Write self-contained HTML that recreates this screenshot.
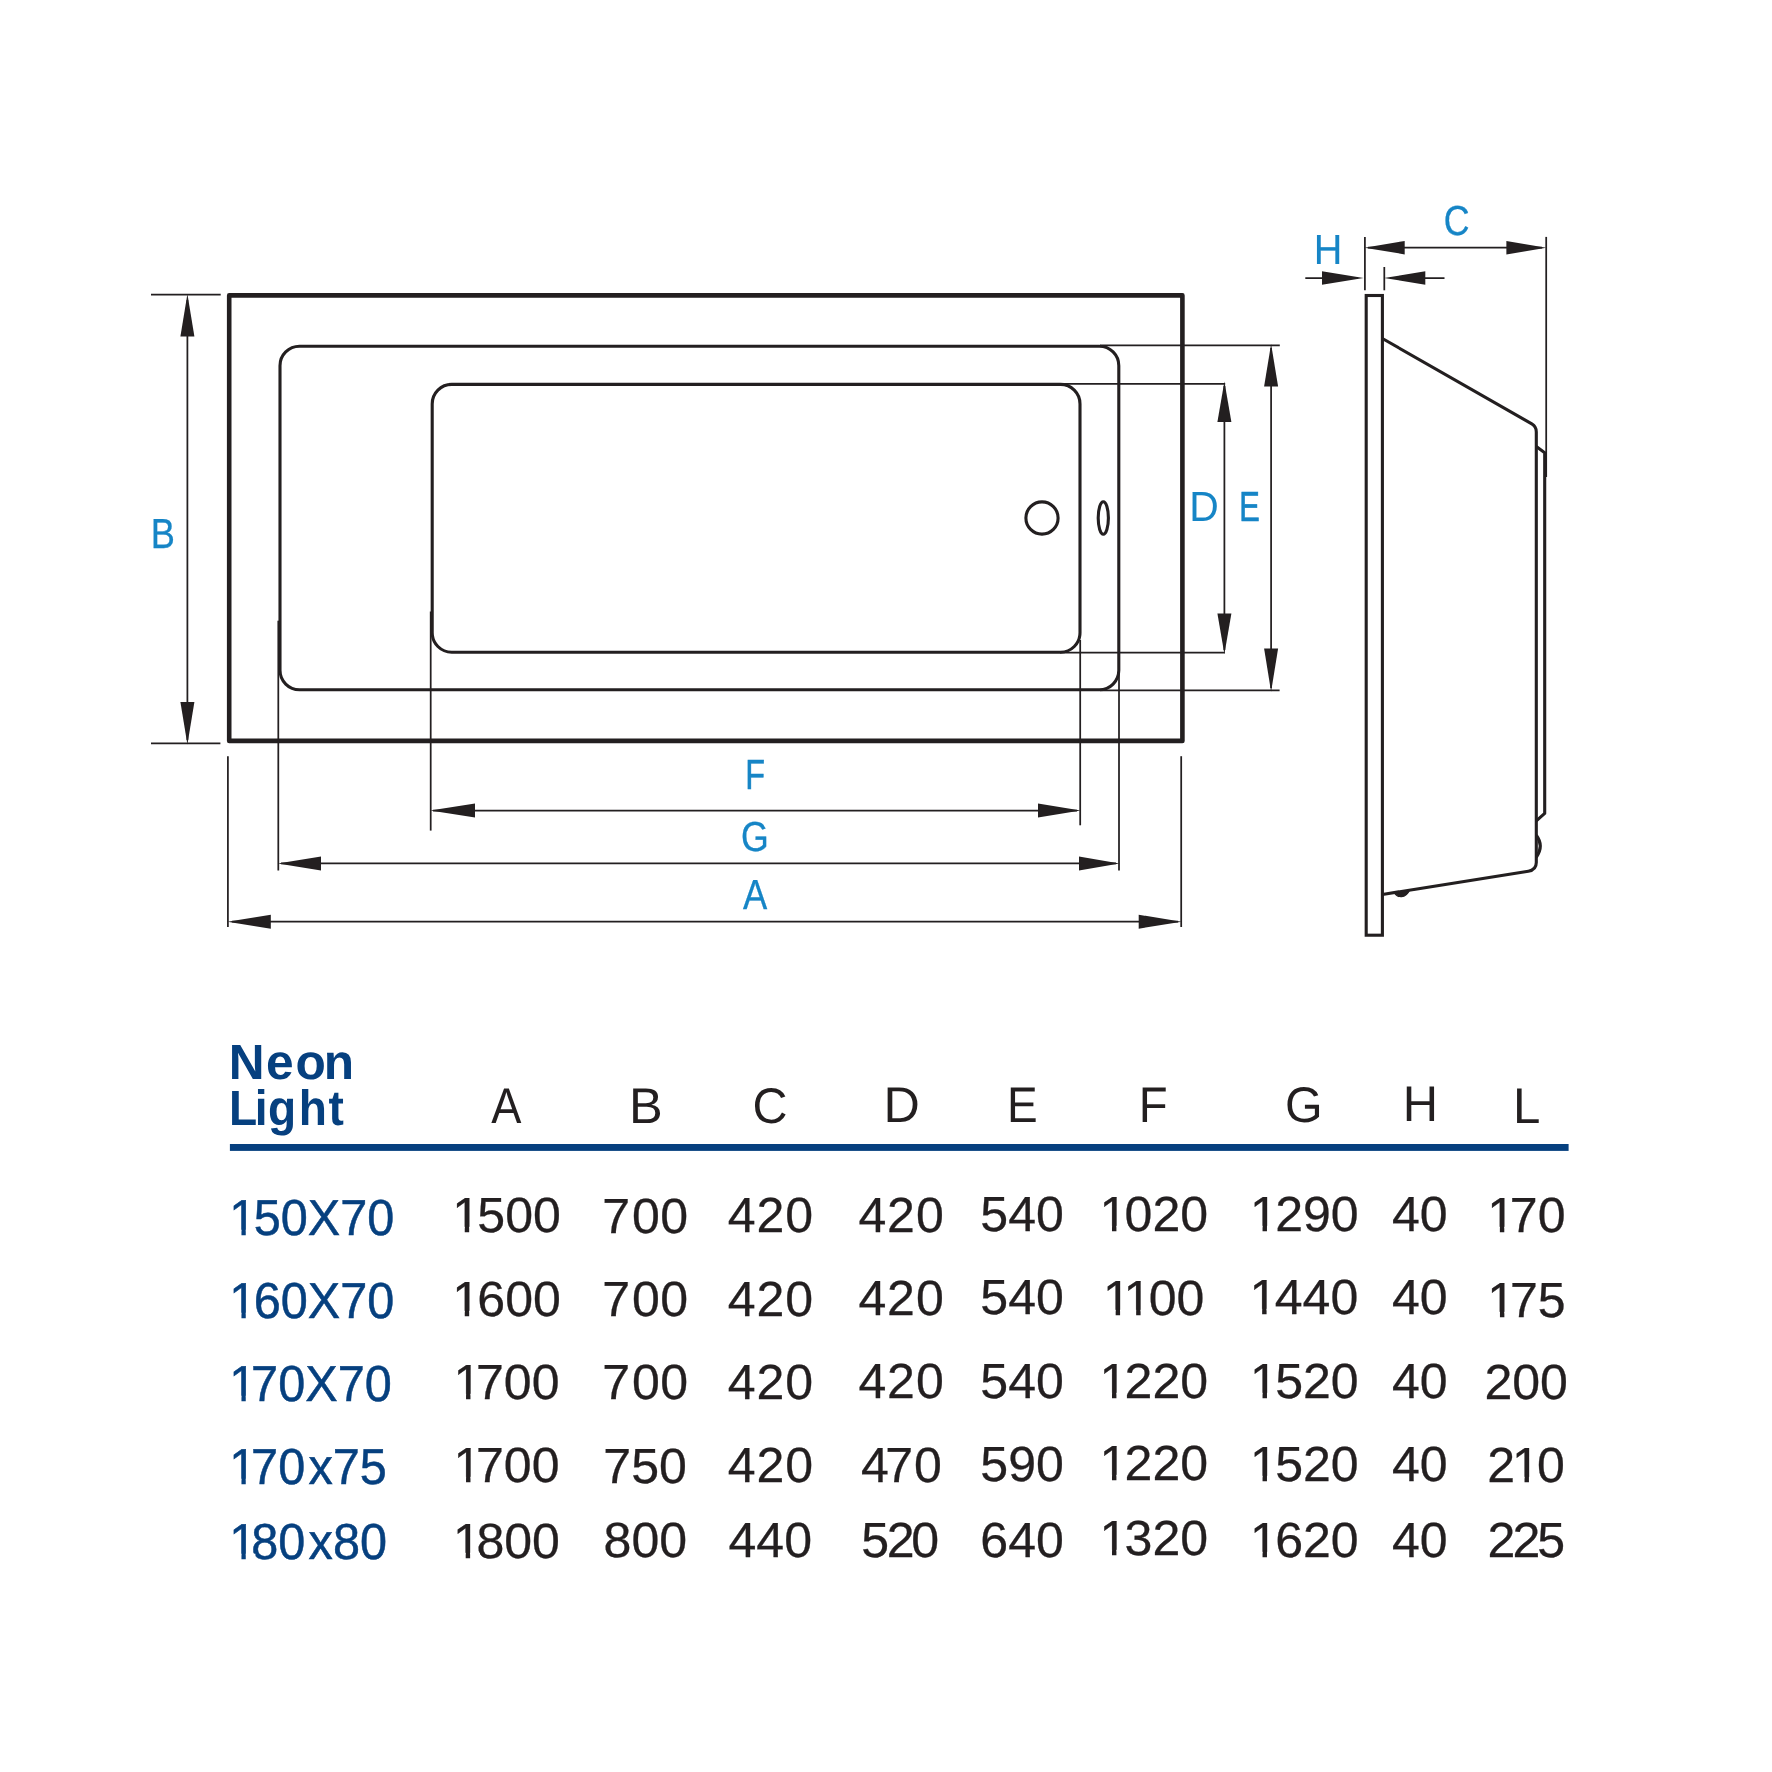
<!DOCTYPE html>
<html>
<head>
<meta charset="utf-8">
<title>Neon Light bathtub dimensions</title>
<style>
html,body{margin:0;padding:0;background:#fff;}
body{width:1772px;height:1772px;overflow:hidden;position:relative;}
svg{position:absolute;left:0;top:0;will-change:transform;}
text{font-family:"Liberation Sans",sans-serif;font-kerning:none;text-rendering:geometricPrecision;}
.lbl{fill:#1685c6;font-size:42.0px;}
.hd{fill:#231f20;font-size:50px;}
.num{fill:#231f20;font-size:49.3px;stroke:#231f20;stroke-width:0.3px;}
.row{fill:#06407f;font-size:50.6px;stroke:#06407f;stroke-width:0.5px;}
.ttl{fill:#06407f;font-size:49.6px;font-weight:bold;}
</style>
</head>
<body>
<svg width="1772" height="1772" viewBox="0 0 1772 1772">
<g fill="none" stroke="#231f20">
  <rect x="229.2" y="295.4" width="953.2" height="445.5" stroke-width="4.6" stroke-linejoin="round"/>
  <rect x="280" y="346.2" width="838.8" height="343.6" rx="19.5" ry="19.5" stroke-width="3.1"/>
  <rect x="432.2" y="384.4" width="647.8" height="267.8" rx="19.5" ry="19.5" stroke-width="3.1"/>
  <circle cx="1042" cy="518" r="16.1" stroke-width="3.1"/>
  <ellipse cx="1103.3" cy="518" rx="5.1" ry="16.2" stroke-width="3.1"/>
  <g stroke-width="1.75">
    <line x1="151" y1="294.6" x2="220.7" y2="294.6"/>
    <line x1="151" y1="743.3" x2="220.4" y2="743.3"/>
    <line x1="187.4" y1="300" x2="187.4" y2="740"/>
    <line x1="227.9" y1="756.2" x2="227.9" y2="927"/>
    <line x1="1181.2" y1="756.2" x2="1181.2" y2="927"/>
    <line x1="232" y1="921.7" x2="1178" y2="921.7"/>
    <line x1="278.3" y1="620.7" x2="278.3" y2="870.5"/>
    <line x1="1119" y1="670" x2="1119" y2="870.6"/>
    <line x1="281" y1="863.4" x2="1116" y2="863.4"/>
    <line x1="430.7" y1="611.5" x2="430.7" y2="830.6"/>
    <line x1="1080.2" y1="640" x2="1080.2" y2="825.3"/>
    <line x1="433" y1="810.5" x2="1077" y2="810.5"/>
    <line x1="1100" y1="345.4" x2="1279.8" y2="345.4"/>
    <line x1="1100" y1="690.4" x2="1279.6" y2="690.4"/>
    <line x1="1271.1" y1="348" x2="1271.1" y2="688"/>
    <line x1="1060" y1="383.8" x2="1225.2" y2="383.8"/>
    <line x1="1060" y1="652.7" x2="1224.9" y2="652.7"/>
    <line x1="1224.4" y1="386" x2="1224.4" y2="650"/>
    <line x1="1364.9" y1="236.9" x2="1364.9" y2="290.3"/>
    <line x1="1546.2" y1="236.9" x2="1546.2" y2="477"/>
    <line x1="1368" y1="247.7" x2="1542" y2="247.7"/>
    <line x1="1384.3" y1="267" x2="1384.3" y2="290.3"/>
    <line x1="1305.3" y1="278" x2="1358" y2="278"/>
    <line x1="1390" y1="278" x2="1444.5" y2="278"/>
  </g>
  <rect x="1366.2" y="295.5" width="16.2" height="639.7" stroke-width="3.1"/>
  <path d="M1382.4 338.5 L1531.8 423.9 Q1536.3 426.5 1536.3 432 L1536.3 862.5 Q1536.3 869.9 1528.3 871.2 L1382.4 894.5" stroke-width="3.1" stroke-linejoin="round"/>
  <path d="M1536.3 446.6 L1544.7 452.8 L1544.7 813.4 L1536.3 820.9" stroke-width="3.1" stroke-linejoin="round"/>
  <path d="M1536.3 835.3 Q1544.3 846 1536.3 857.3" stroke-width="3.1"/>
  <path d="M1394.3 892.6 C1397.5 898.2 1405.5 898.6 1409.6 890.2 Z" fill="#231f20" stroke-width="1.2"/>
</g>
<g fill="#231f20" stroke="none">
  <polygon points="187.40,293.90 180.40,336.40 194.40,336.40"/>
  <polygon points="187.40,744.60 180.40,702.00 194.40,702.00"/>
  <polygon points="227.40,921.70 270.80,914.70 270.80,928.70"/>
  <polygon points="1181.70,921.70 1138.70,914.70 1138.70,928.70"/>
  <polygon points="277.80,863.40 321.00,856.40 321.00,870.40"/>
  <polygon points="1119.50,863.40 1079.00,856.40 1079.00,870.40"/>
  <polygon points="430.20,810.50 475.00,803.50 475.00,817.50"/>
  <polygon points="1080.70,810.50 1038.00,803.50 1038.00,817.50"/>
  <polygon points="1271.10,344.10 1264.10,386.50 1278.10,386.50"/>
  <polygon points="1271.10,691.70 1264.10,648.40 1278.10,648.40"/>
  <polygon points="1224.40,381.50 1217.40,422.00 1231.40,422.00"/>
  <polygon points="1224.40,654.00 1217.40,613.60 1231.40,613.60"/>
  <polygon points="1364.40,247.70 1404.70,241.00 1404.70,254.40"/>
  <polygon points="1546.30,247.70 1506.40,241.00 1506.40,254.40"/>
  <polygon points="1363.50,278.00 1322.00,271.30 1322.00,284.70"/>
  <polygon points="1384.00,278.00 1425.30,271.30 1425.30,284.70"/>
</g>
<g>
<text class="lbl" style="stroke:#1685c6;stroke-width:0.30px" transform="scale(0.8634 1)" x="174.69" y="547.80">B</text>
<text class="lbl" style="stroke:#1685c6;stroke-width:0.57px" transform="scale(0.7697 1)" x="968.40" y="789.10">F</text>
<text class="lbl" style="stroke:#1685c6;stroke-width:0.34px" transform="scale(0.8498 1)" x="871.88" y="851.00">G</text>
<text class="lbl" style="stroke:#1685c6;stroke-width:0.30px" transform="scale(0.8654 1)" x="858.63" y="908.80">A</text>
<text class="lbl" style="stroke:#1685c6;stroke-width:0.05px" transform="scale(0.9728 1)" x="1222.57" y="521.10">D</text>
<text class="lbl" style="stroke:#1685c6;stroke-width:0.69px" transform="scale(0.7336 1)" x="1689.38" y="521.10">E</text>
<text class="lbl" style="stroke:#1685c6;stroke-width:0.34px" transform="scale(0.8497 1)" x="1699.24" y="234.60">C</text>
<text class="lbl" style="stroke:#1685c6;stroke-width:0.12px" transform="scale(0.9420 1)" x="1394.55" y="264.00">H</text>
</g>
<g>
<text class="ttl" transform="scale(1.0001 1)" x="228.66 266.04 295.43 323.80" y="1079.00">Neon</text>
<text class="ttl" transform="scale(0.9300 1)" x="246.14 274.06 288.18 321.16 353.16" y="1124.90">Light</text>
<rect x="229.9" y="1144.0" width="1338.7" height="6.9" fill="#06407f"/>
<text class="hd" transform="scale(0.9049 1)" x="542.75" y="1123.00">A</text>
<text class="hd" transform="scale(1.0108 1)" x="622.20" y="1123.00">B</text>
<text class="hd" transform="scale(0.9695 1)" x="776.09" y="1122.70">C</text>
<text class="hd" transform="scale(1.0063 1)" x="877.87" y="1121.90">D</text>
<text class="hd" transform="scale(0.9188 1)" x="1096.10" y="1121.90">E</text>
<text class="hd" transform="scale(0.9452 1)" x="1204.81" y="1121.90">F</text>
<text class="hd" transform="scale(0.9681 1)" x="1327.42" y="1122.20">G</text>
<text class="hd" transform="scale(0.9775 1)" x="1435.04" y="1121.30">H</text>
<text class="hd" transform="scale(0.9843 1)" x="1537.08" y="1123.10">L</text>
<text class="row" transform="scale(0.9613 1)" x="238.46 263.92 292.06 320.20 353.95 382.09" y="1234.60">150X70</text>
<text class="num" transform="scale(1.0160 1)" x="445.02 469.82 497.23 524.64" y="1232.30">1500</text>
<text class="num" transform="scale(1.0160 1)" x="592.75 621.99 649.75" y="1232.50">700</text>
<text class="num" transform="scale(1.0160 1)" x="716.39 744.47 772.88" y="1232.30">420</text>
<text class="num" transform="scale(1.0160 1)" x="845.03 873.11 901.52" y="1232.20">420</text>
<text class="num" transform="scale(1.0160 1)" x="964.86 992.27 1019.68" y="1230.90">540</text>
<text class="num" transform="scale(1.0160 1)" x="1082.08 1106.88 1134.29 1161.70" y="1230.90">1020</text>
<text class="num" transform="scale(1.0160 1)" x="1230.26 1255.06 1282.47 1309.88" y="1230.80">1290</text>
<text class="num" transform="scale(1.0160 1)" x="1370.03 1397.44" y="1230.80">40</text>
<text class="num" transform="scale(1.0160 1)" x="1463.85 1486.09 1513.50" y="1232.20">170</text>
<text class="row" transform="scale(0.9613 1)" x="238.46 263.92 292.06 320.20 353.95 382.09" y="1317.80">160X70</text>
<text class="num" transform="scale(1.0160 1)" x="445.02 469.82 497.23 524.64" y="1316.00">1600</text>
<text class="num" transform="scale(1.0160 1)" x="592.75 621.99 649.75" y="1315.60">700</text>
<text class="num" transform="scale(1.0160 1)" x="716.39 744.47 772.88" y="1315.50">420</text>
<text class="num" transform="scale(1.0160 1)" x="845.03 873.11 901.52" y="1315.00">420</text>
<text class="num" transform="scale(1.0160 1)" x="964.86 992.27 1019.68" y="1314.40">540</text>
<text class="num" transform="scale(1.0160 1)" x="1085.70 1105.87 1130.67 1158.08" y="1314.70">1100</text>
<text class="num" transform="scale(1.0160 1)" x="1229.87 1254.66 1282.08 1309.49" y="1313.90">1440</text>
<text class="num" transform="scale(1.0160 1)" x="1370.03 1397.44" y="1313.90">40</text>
<text class="num" transform="scale(1.0160 1)" x="1463.92 1486.16 1513.57" y="1316.50">175</text>
<text class="row" transform="scale(0.9613 1)" x="238.46 261.21 289.35 317.49 351.24 379.38" y="1400.80">170X70</text>
<text class="num" transform="scale(1.0160 1)" x="446.30 468.54 495.95 523.36" y="1399.10">1700</text>
<text class="num" transform="scale(1.0160 1)" x="592.75 621.99 649.75" y="1399.10">700</text>
<text class="num" transform="scale(1.0160 1)" x="716.39 744.47 772.88" y="1399.10">420</text>
<text class="num" transform="scale(1.0160 1)" x="845.03 873.11 901.52" y="1398.00">420</text>
<text class="num" transform="scale(1.0160 1)" x="964.86 992.27 1019.68" y="1397.60">540</text>
<text class="num" transform="scale(1.0160 1)" x="1082.08 1106.88 1134.29 1161.70" y="1397.80">1220</text>
<text class="num" transform="scale(1.0160 1)" x="1230.26 1255.06 1282.47 1309.88" y="1398.00">1520</text>
<text class="num" transform="scale(1.0160 1)" x="1370.03 1397.44" y="1398.00">40</text>
<text class="num" transform="scale(1.0160 1)" x="1461.01 1488.43 1515.84" y="1399.10">200</text>
<text class="row" transform="scale(0.9613 1)" x="238.46 261.21 289.35 320.82 346.12 374.26" y="1483.70">170x75</text>
<text class="num" transform="scale(1.0160 1)" x="446.30 468.54 495.95 523.36" y="1482.20">1700</text>
<text class="num" transform="scale(1.0160 1)" x="593.81 621.23 648.64" y="1482.60">750</text>
<text class="num" transform="scale(1.0160 1)" x="716.39 744.47 772.88" y="1482.30">420</text>
<text class="num" transform="scale(1.0160 1)" x="847.39 871.29 899.65" y="1482.05">470</text>
<text class="num" transform="scale(1.0160 1)" x="964.86 992.27 1019.68" y="1481.20">590</text>
<text class="num" transform="scale(1.0160 1)" x="1082.08 1106.88 1134.29 1161.70" y="1480.40">1220</text>
<text class="num" transform="scale(1.0160 1)" x="1230.26 1255.06 1282.47 1309.88" y="1481.20">1520</text>
<text class="num" transform="scale(1.0160 1)" x="1370.03 1397.44" y="1481.20">40</text>
<text class="num" transform="scale(1.0160 1)" x="1463.94 1488.11 1512.91" y="1482.05">210</text>
<text class="row" transform="scale(0.9613 1)" x="238.46 261.42 289.56 321.03 346.33 374.47" y="1559.20">180x80</text>
<text class="num" transform="scale(1.0160 1)" x="445.96 468.89 496.30 523.71" y="1557.50">1800</text>
<text class="num" transform="scale(1.0160 1)" x="594.06 621.47 648.88" y="1557.30">800</text>
<text class="num" transform="scale(1.0160 1)" x="717.05 744.46 771.88" y="1557.40">440</text>
<text class="num" transform="scale(1.0160 1)" x="847.63 872.82 896.89" y="1557.10">520</text>
<text class="num" transform="scale(1.0160 1)" x="964.89 992.30 1019.71" y="1556.70">640</text>
<text class="num" transform="scale(1.0160 1)" x="1082.08 1106.88 1134.29 1161.70" y="1555.40">1320</text>
<text class="num" transform="scale(1.0160 1)" x="1230.26 1255.06 1282.47 1309.88" y="1557.10">1620</text>
<text class="num" transform="scale(1.0160 1)" x="1370.03 1397.44" y="1557.10">40</text>
<text class="num" transform="scale(1.0160 1)" x="1463.96 1488.66 1513.09" y="1557.10">225</text>
</g>
<g>
<rect x="231.43" y="1229.72" width="10.03" height="6.78" fill="#fff"/>
<rect x="245.75" y="1229.72" width="9.65" height="6.78" fill="#fff"/>
<rect x="454.46" y="1226.82" width="10.28" height="6.68" fill="#fff"/>
<rect x="469.17" y="1226.82" width="9.89" height="6.68" fill="#fff"/>
<rect x="1101.71" y="1225.82" width="10.28" height="6.68" fill="#fff"/>
<rect x="1116.42" y="1225.82" width="9.89" height="6.68" fill="#fff"/>
<rect x="1252.26" y="1225.82" width="10.28" height="6.68" fill="#fff"/>
<rect x="1266.97" y="1225.82" width="9.89" height="6.68" fill="#fff"/>
<rect x="1489.58" y="1226.82" width="10.28" height="6.68" fill="#fff"/>
<rect x="1504.29" y="1226.82" width="9.89" height="6.68" fill="#fff"/>
<rect x="231.43" y="1312.72" width="10.03" height="6.78" fill="#fff"/>
<rect x="245.75" y="1312.72" width="9.65" height="6.78" fill="#fff"/>
<rect x="454.46" y="1310.82" width="10.28" height="6.68" fill="#fff"/>
<rect x="469.17" y="1310.82" width="9.89" height="6.68" fill="#fff"/>
<rect x="1105.38" y="1309.82" width="10.28" height="6.68" fill="#fff"/>
<rect x="1120.09" y="1309.82" width="9.89" height="6.68" fill="#fff"/>
<rect x="1125.88" y="1309.82" width="10.28" height="6.68" fill="#fff"/>
<rect x="1140.59" y="1309.82" width="9.89" height="6.68" fill="#fff"/>
<rect x="1251.86" y="1308.82" width="10.28" height="6.68" fill="#fff"/>
<rect x="1266.57" y="1308.82" width="9.89" height="6.68" fill="#fff"/>
<rect x="1489.66" y="1311.82" width="10.28" height="6.68" fill="#fff"/>
<rect x="1504.36" y="1311.82" width="9.89" height="6.68" fill="#fff"/>
<rect x="231.43" y="1395.72" width="10.03" height="6.78" fill="#fff"/>
<rect x="245.75" y="1395.72" width="9.65" height="6.78" fill="#fff"/>
<rect x="455.76" y="1393.82" width="10.28" height="6.68" fill="#fff"/>
<rect x="470.47" y="1393.82" width="9.89" height="6.68" fill="#fff"/>
<rect x="1101.71" y="1392.82" width="10.28" height="6.68" fill="#fff"/>
<rect x="1116.42" y="1392.82" width="9.89" height="6.68" fill="#fff"/>
<rect x="1252.26" y="1392.82" width="10.28" height="6.68" fill="#fff"/>
<rect x="1266.97" y="1392.82" width="9.89" height="6.68" fill="#fff"/>
<rect x="231.43" y="1478.72" width="10.03" height="6.78" fill="#fff"/>
<rect x="245.75" y="1478.72" width="9.65" height="6.78" fill="#fff"/>
<rect x="455.76" y="1476.82" width="10.28" height="6.68" fill="#fff"/>
<rect x="470.47" y="1476.82" width="9.89" height="6.68" fill="#fff"/>
<rect x="1101.71" y="1474.82" width="10.28" height="6.68" fill="#fff"/>
<rect x="1116.42" y="1474.82" width="9.89" height="6.68" fill="#fff"/>
<rect x="1252.26" y="1475.82" width="10.28" height="6.68" fill="#fff"/>
<rect x="1266.97" y="1475.82" width="9.89" height="6.68" fill="#fff"/>
<rect x="1514.24" y="1476.82" width="10.28" height="6.68" fill="#fff"/>
<rect x="1528.94" y="1476.82" width="9.89" height="6.68" fill="#fff"/>
<rect x="231.43" y="1553.72" width="10.03" height="6.78" fill="#fff"/>
<rect x="245.75" y="1553.72" width="9.65" height="6.78" fill="#fff"/>
<rect x="455.41" y="1552.82" width="10.28" height="6.68" fill="#fff"/>
<rect x="470.12" y="1552.82" width="9.89" height="6.68" fill="#fff"/>
<rect x="1101.71" y="1549.82" width="10.28" height="6.68" fill="#fff"/>
<rect x="1116.42" y="1549.82" width="9.89" height="6.68" fill="#fff"/>
<rect x="1252.26" y="1551.82" width="10.28" height="6.68" fill="#fff"/>
<rect x="1266.97" y="1551.82" width="9.89" height="6.68" fill="#fff"/>
</g>
</svg>
</body>
</html>
